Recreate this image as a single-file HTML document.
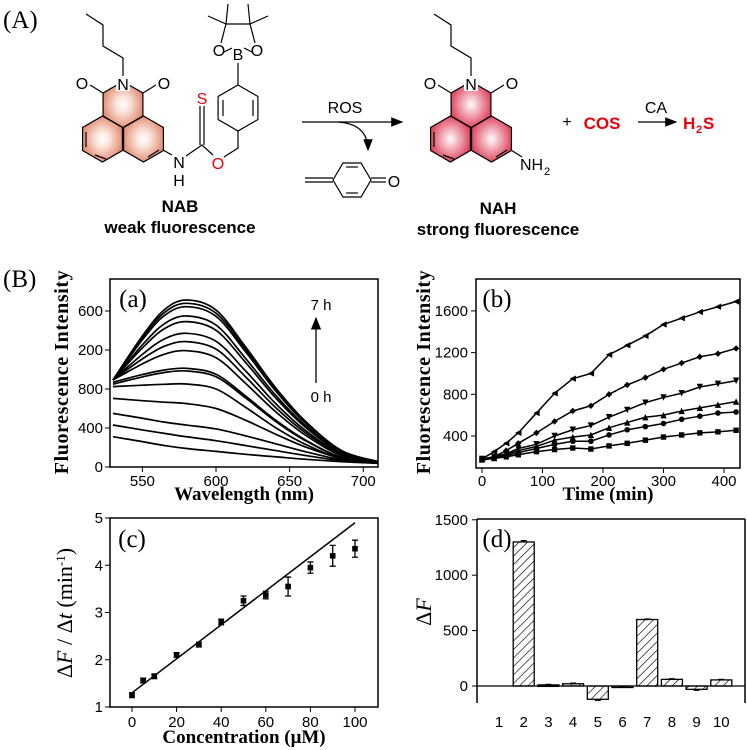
<!DOCTYPE html>
<html><head><meta charset="utf-8"><style>
html,body{margin:0;padding:0;background:#fff;}
svg{display:block;}
.tk{font-family:"Liberation Sans",sans-serif;font-size:15px;fill:#000;}
.ti{font-family:"Liberation Serif",serif;font-weight:bold;font-size:19px;fill:#000;}
.pl{font-family:"Liberation Serif",serif;font-size:25px;fill:#000;}
.ch{font-family:"Liberation Sans",sans-serif;font-size:16px;fill:#000;}
.cb{font-family:"Liberation Sans",sans-serif;font-size:17px;font-weight:bold;fill:#000;}
.red{fill:#e8000b !important;}
</style></head><body>
<svg id="fig" width="747" height="750" viewBox="0 0 747 750" xmlns="http://www.w3.org/2000/svg">
<defs>
<radialGradient id="gNAB"><stop offset="0" stop-color="#fff"/><stop offset="0.35" stop-color="#fbe3da"/><stop offset="1" stop-color="#e39178"/></radialGradient>
<radialGradient id="gNAH"><stop offset="0" stop-color="#fff"/><stop offset="0.3" stop-color="#f7c4cd"/><stop offset="1" stop-color="#dd4a63"/></radialGradient>
<pattern id="hatch" width="6" height="6" patternUnits="userSpaceOnUse" patternTransform="rotate(45)"><line x1="0" y1="0" x2="0" y2="6" stroke="#000" stroke-width="1.3"/></pattern>
<marker id="ah" markerWidth="10" markerHeight="8" refX="9" refY="4" orient="auto"><path d="M0,0 L10,4 L0,8 Z" fill="#000"/></marker>
</defs>

<g id="schemeA">
<text class="pl" x="3" y="28">(A)</text>
</g>

<text class="pl" x="3" y="287">(B)</text>
<g id="pa"></g>
<g id="pb"></g>
<g id="pc"></g>
<g id="pd"></g>
</svg>
<script>
// ---------- Panel (a) data ----------
const aWavelengths=[530,550,565,580,600,620,640,660,685,710];
const aCurves=[
[892,1344,1614,1713,1610,1233,822,480,171,55],
[892,1325,1585,1679,1578,1209,806,470,168,55],
[892,1306,1554,1644,1545,1184,789,460,164,55],
[892,1253,1470,1549,1456,1115,744,434,155,54],
[892,1221,1419,1491,1402,1074,716,417,149,54],
[892,1155,1314,1371,1289,987,658,384,137,53],
[892,1109,1239,1286,1209,926,617,360,129,52],
[892,1058,1157,1193,1121,859,573,334,119,52],
[870,948,995,1012,951,729,486,283,101,50],
[850,924,969,985,926,709,473,276,99,50],
[824,839,848,851,800,613,408,238,85,48],
[704,680,665,650,600,480,340,210,90,45],
[550,500,460,430,390,320,240,160,75,42],
[431,380,345,310,270,220,170,120,65,40],
[311,260,220,190,160,130,105,80,55,38]];
const aXTicks=[550,600,650,700];
const aYTickVals=[0,400,800,1200,1600];
const aYTickLabels=["0","400","800","200","600"];
// ---------- Panel (b) data ----------
const bTimes=[0,20,40,60,90,120,150,180,210,240,270,300,330,360,390,420];
const bS1=[180,250,330,430,620,810,950,1000,1180,1270,1360,1470,1530,1590,1640,1690];
const bS2=[180,200,260,330,430,540,640,690,800,890,960,1040,1100,1160,1190,1240];
const bS3=[180,200,230,280,320,400,460,500,580,650,720,770,810,870,900,930];
const bS4=[180,190,220,260,300,360,390,410,480,530,580,600,640,670,700,730];
const bS5=[180,190,210,240,280,320,350,350,410,460,490,520,560,590,620,630];
const bS6=[170,185,200,220,250,270,285,275,305,330,360,390,410,430,440,455];
const bXTicks=[0,100,200,300,400];
const bYTicks=[400,800,1200,1600];
// ---------- Panel (c) data ----------
const cConc=[0,5,10,20,30,40,50,60,70,80,90,100];
const cRate=[1.25,1.56,1.65,2.1,2.32,2.8,3.25,3.37,3.55,3.95,4.2,4.35];
const cErr=[0.05,0.05,0.05,0.05,0.05,0.06,0.1,0.08,0.2,0.12,0.22,0.18];
const cFitX=[0,100];
const cFitY=[1.3,4.9];
const cXTicks=[0,20,40,60,80,100];
const cYTicks=[1,2,3,4,5];
// ---------- Panel (d) data ----------
const dCats=["1","2","3","4","5","6","7","8","9","10"];
const dVals=[0,1300,10,20,-120,-5,600,60,-30,55];
const dErr=[0,12,4,6,8,3,4,5,8,5];
const dYTicks=[0,500,1000,1500];

const NS="http://www.w3.org/2000/svg";
function mk(parent,tag,attrs){const e=document.createElementNS(NS,tag);for(const k in attrs)e.setAttribute(k,attrs[k]);parent.appendChild(e);return e;}
function txt(parent,x,y,s,cls,anchor){const t=mk(parent,'text',{x:x,y:y,class:cls,'text-anchor':anchor||'middle'});t.textContent=s;return t;}
function smooth(pts){let d='M'+pts[0][0]+','+pts[0][1];for(let i=0;i<pts.length-1;i++){const p0=pts[i-1]||pts[i],p1=pts[i],p2=pts[i+1],p3=pts[i+2]||p2;const c1=[p1[0]+(p2[0]-p0[0])/6,p1[1]+(p2[1]-p0[1])/6],c2=[p2[0]-(p3[0]-p1[0])/6,p2[1]-(p3[1]-p1[1])/6];d+=' C'+c1+' '+c2+' '+p2;}return d;}

// ===== Scheme (A) =====
(function(){
const g=document.getElementById('schemeA');
function hex(cx,cy,s,fill,name){let p=[];for(let i=0;i<6;i++){const a=Math.PI/180*(60*i-90);p.push([cx+s*Math.cos(a),cy+s*Math.sin(a)]);}
 const e=mk(g,'polygon',{points:p.map(q=>q.join(',')).join(' '),fill:fill,stroke:'#000','stroke-width':1.2});
 
 return p;}
function ln(pts,col){const e=mk(g,'polyline',{points:pts.map(q=>q.join(',')).join(' '),fill:'none',stroke:col||'#000','stroke-width':1.2});return e;}
function naph(dx,grad,pref){
 const s=23;
 hex(102.5+dx,139,s,grad,pref+'-left-ring');
 hex(143.5+dx,139,s,grad,pref+'-right-ring');
 hex(123+dx,104.5,s,grad,pref+'-imide-ring');
 ln([[86+dx,132],[86+dx,147]]);ln([[148+dx,157],[159+dx,150]]);ln([[95+dx,155],[106+dx,159]]);
 ln([[103+dx,93],[90+dx,85]]);ln([[143+dx,93],[156+dx,85]]);
 let o=txt(g,82+dx,89,'O','ch');
 o=txt(g,164+dx,89,'O','ch');
 mk(g,'rect',{x:116+dx,y:75,width:14,height:16,fill:'#fff'});
 const n=txt(g,123+dx,90,'N','ch');
 ln([[123+dx,76],[123+dx,58],[103+dx,46],[103+dx,25],[86+dx,14]]);
}
naph(0,'url(#gNAB)','nab');
naph(348,'url(#gNAH)','nah');
ln([[163,150],[172,155]]);
let t=txt(g,179,168,'N','ch');
t=txt(g,179,186,'H','ch');
ln([[186,156],[202,145],[213,155]]);
ln([[200,145],[200,106]]);ln([[204,145],[204,106]]);
t=txt(g,202,104,'S','ch red');
t=txt(g,218,169,'O','ch red');
ln([[224,157],[238,148],[238,131]]);
hex(238,108,23,'#fff','benzyl-ring');
ln([[223,100],[223,116]]);ln([[253,100],[253,116]]);
ln([[238,85],[238,63]]);
t=txt(g,238,60,'B','ch');
ln([[232,48],[224,52]]);ln([[244,48],[252,52]]);
t=txt(g,219,56,'O','ch');
t=txt(g,257,56,'O','ch');
ln([[221,43],[226,24],[250,24],[255,43]]);
ln([[226,24],[208,16]]);ln([[226,24],[228,4]]);ln([[250,24],[248,4]]);ln([[250,24],[268,16]]);
const ar=mk(g,'line',{x1:302,y1:122,x2:402,y2:122,stroke:'#000','stroke-width':1.2,'marker-end':'url(#ah)'});

t=txt(g,345,113,'ROS','ch');
mk(g,'path',{d:'M338,122 Q368,124 368,150',fill:'none',stroke:'#000','stroke-width':1.2,'marker-end':'url(#ah)'});
const qm=[[333,180],[343,163],[361,163],[371,180],[361,197],[343,197]];
mk(g,'polygon',{points:qm.map(q=>q.join(',')).join(' '),fill:'none',stroke:'#000','stroke-width':1.2});
ln([[346,167],[358,167]]);ln([[346,193],[358,193]]);
ln([[305,178],[333,178]]);ln([[305,182],[333,182]]);ln([[371,178],[386,178]]);ln([[371,182],[386,182]]);
t=txt(g,394,187,'O','ch');
ln([[511,150],[522,157]]);
t=txt(g,520,170,'NH','ch','start');
t=txt(g,544,175,'2','ch','start');t.setAttribute('font-size','11');t.setAttribute('style','font-size:11px');
t=txt(g,567,127,'+','ch');
t=txt(g,602,129,'COS','cb red');
const ar2=mk(g,'line',{x1:638,y1:122,x2:676,y2:122,stroke:'#000','stroke-width':1.2,'marker-end':'url(#ah)'});

t=txt(g,656,113,'CA','ch');
t=txt(g,683,129,'H','cb red','start');
t=txt(g,696,133,'2','cb red','start');t.setAttribute('style','font-size:11px');
t=txt(g,703,129,'S','cb red','start');
t=txt(g,180,212,'NAB','cb');
t=txt(g,180,233,'weak fluorescence','cb');
t=txt(g,498,214,'NAH','cb');
t=txt(g,498,235,'strong fluorescence','cb');
})();

function frame(g,x0,x1,y0,y1){const r=mk(g,'rect',{x:x0,y:y0,width:x1-x0,height:y1-y0,fill:'none',stroke:'#000','stroke-width':1.5});}
function yTitle(g,x,y,s){const t=txt(g,x,y,s,'ti');t.setAttribute('transform','rotate(-90 '+x+' '+y+')');t.setAttribute('style','font-size:20px;letter-spacing:0.6px');return t;}

// ===== Panel (a) =====
(function(){
const g=document.getElementById('pa');
const X=v=>110+(v-528)*(268/182), Y=v=>467-v*39/400;
frame(g,110,378,279,467);
aXTicks.forEach(v=>{mk(g,'line',{x1:X(v),y1:467,x2:X(v),y2:472,stroke:'#000'});const t=txt(g,X(v),486,String(v),'tk');});
aYTickVals.forEach((v,i)=>{mk(g,'line',{x1:105,y1:Y(v),x2:110,y2:Y(v),stroke:'#000'});const t=txt(g,103,Y(v)+5,aYTickLabels[i],'tk','end');});
aCurves.forEach(c=>{const p=mk(g,'path',{d:smooth(c.map((v,i)=>[X(aWavelengths[i]),Y(v)])),fill:'none',stroke:'#000','stroke-width':1.7});
 
 });
const a=mk(g,'line',{x1:316,y1:383,x2:316,y2:318,stroke:'#000','stroke-width':1.3,'marker-end':'url(#ah)'});

let t=txt(g,321,310,'7 h','tk');
t=txt(g,321,402,'0 h','tk');
t=txt(g,133,307,'(a)','pl');
yTitle(g,68,372,'Fluorescence Intensity');
t=txt(g,244,500,'Wavelength (nm)','ti');
})();

// ===== Panel (b) =====
(function(){
const g=document.getElementById('pb');
const X=v=>482+v*0.605, Y=v=>436-(v-400)*0.10425;
frame(g,476,740,279,468);
bXTicks.forEach(v=>{mk(g,'line',{x1:X(v),y1:468,x2:X(v),y2:473,stroke:'#000'});const t=txt(g,X(v),486,String(v),'tk');});
bYTicks.forEach(v=>{mk(g,'line',{x1:471,y1:Y(v),x2:476,y2:Y(v),stroke:'#000'});const t=txt(g,468,Y(v)+5,String(v),'tk','end');});
const series=[[bS1,'ltri'],[bS2,'dia'],[bS3,'dtri'],[bS4,'utri'],[bS5,'circ'],[bS6,'sq']];
series.forEach(([s,m])=>{
 const p=mk(g,'polyline',{points:s.map((v,i)=>X(bTimes[i])+','+Y(v)).join(' '),fill:'none',stroke:'#000','stroke-width':1.5});
 
 
 s.forEach((v,i)=>{const x=X(bTimes[i]),y=Y(v),r=3.2;let e;
  if(m==='circ')e=mk(g,'circle',{cx:x,cy:y,r:2.8,fill:'#000'});
  else if(m==='sq')e=mk(g,'rect',{x:x-2.7,y:y-2.7,width:5.4,height:5.4,fill:'#000'});
  else{let pts;if(m==='ltri')pts=[[x-r,y],[x+r,y-r],[x+r,y+r]];else if(m==='dia')pts=[[x,y-r],[x+r,y],[x,y+r],[x-r,y]];else if(m==='dtri')pts=[[x-r,y-r],[x+r,y-r],[x,y+r]];else pts=[[x-r,y+r],[x+r,y+r],[x,y-r]];
   e=mk(g,'polygon',{points:pts.map(q=>q.join(',')).join(' '),fill:'#000'});}
  
  });
});
let t=txt(g,497,307,'(b)','pl');
yTitle(g,430,372,'Fluorescence Intensity');
t=txt(g,608,500,'Time (min)','ti');
})();

// ===== Panel (c) =====
(function(){
const g=document.getElementById('pc');
const X=v=>132+v*2.23, Y=v=>707-(v-1)*47.25;
frame(g,110,378,518,707);
cXTicks.forEach(v=>{mk(g,'line',{x1:X(v),y1:707,x2:X(v),y2:712,stroke:'#000'});const t=txt(g,X(v),727,String(v),'tk');});
cYTicks.forEach(v=>{mk(g,'line',{x1:105,y1:Y(v),x2:110,y2:Y(v),stroke:'#000'});const t=txt(g,103,Y(v)+5,String(v),'tk','end');});
const f=mk(g,'line',{x1:X(cFitX[0]),y1:Y(cFitY[0]),x2:X(cFitX[1]),y2:Y(cFitY[1]),stroke:'#000','stroke-width':1.5});

cConc.forEach((c,i)=>{const x=X(c),y=Y(cRate[i]),e=cErr[i];
 const eb=mk(g,'path',{d:`M${x},${Y(cRate[i]+e)}V${Y(cRate[i]-e)}M${x-3},${Y(cRate[i]+e)}h6M${x-3},${Y(cRate[i]-e)}h6`,stroke:'#000','stroke-width':1.3,fill:'none'});
 
 
 const p=mk(g,'rect',{x:x-2.8,y:y-2.8,width:5.6,height:5.6,fill:'#000'});
 
 });
let t=txt(g,132,547,'(c)','pl');
const yt=mk(g,'text',{x:72,y:613,'text-anchor':'middle',transform:'rotate(-90 72 613)',style:'font-family:"Liberation Serif",serif;font-size:22px'});

yt.innerHTML='Δ<tspan font-style="italic">F</tspan> / Δ<tspan font-style="italic">t</tspan> (min<tspan baseline-shift="super" font-size="13">-1</tspan>)';
t=txt(g,244,743,'Concentration (μM)','ti');
})();

// ===== Panel (d) =====
(function(){
const g=document.getElementById('pd');
const X=i=>499+i*24.7, Y=v=>686-v*0.1108;
mk(g,'line',{x1:477,y1:519,x2:745,y2:519,stroke:'#000','stroke-width':1.5});
mk(g,'line',{x1:477,y1:519,x2:477,y2:703,stroke:'#000','stroke-width':1.5});
mk(g,'line',{x1:745,y1:519,x2:745,y2:703,stroke:'#000','stroke-width':1.5});
const z=mk(g,'line',{x1:477,y1:Y(0),x2:745,y2:Y(0),stroke:'#000','stroke-width':1.3});

dYTicks.forEach(v=>{mk(g,'line',{x1:472,y1:Y(v),x2:477,y2:Y(v),stroke:'#000'});const t=txt(g,468,Y(v)+5,String(v),'tk','end');});
dCats.forEach((c,i)=>{const t=txt(g,X(i),727,c,'tk');
 const v=dVals[i];if(v!==0){const y0=Math.min(Y(0),Y(v)),h=Math.abs(Y(v)-Y(0));
 const b=mk(g,'rect',{x:X(i)-10.5,y:y0,width:21,height:Math.max(h,1.5),fill:'url(#hatch)',stroke:'#000','stroke-width':1.3});
 
 
 const e=dErr[i],ye=Y(v+(v>=0?e:-e));
 mk(g,'path',{d:`M${X(i)},${Y(v)}V${ye}M${X(i)-3},${ye}h6`,stroke:'#000','stroke-width':1.3,fill:'none'});}});
let t=txt(g,497,547,'(d)','pl');
const yt=mk(g,'text',{x:431,y:612,'text-anchor':'middle',transform:'rotate(-90 431 612)',style:'font-family:"Liberation Serif",serif;font-size:22px'});

yt.innerHTML='Δ<tspan font-style="italic">F</tspan>';
})();
</script>
</body></html>
